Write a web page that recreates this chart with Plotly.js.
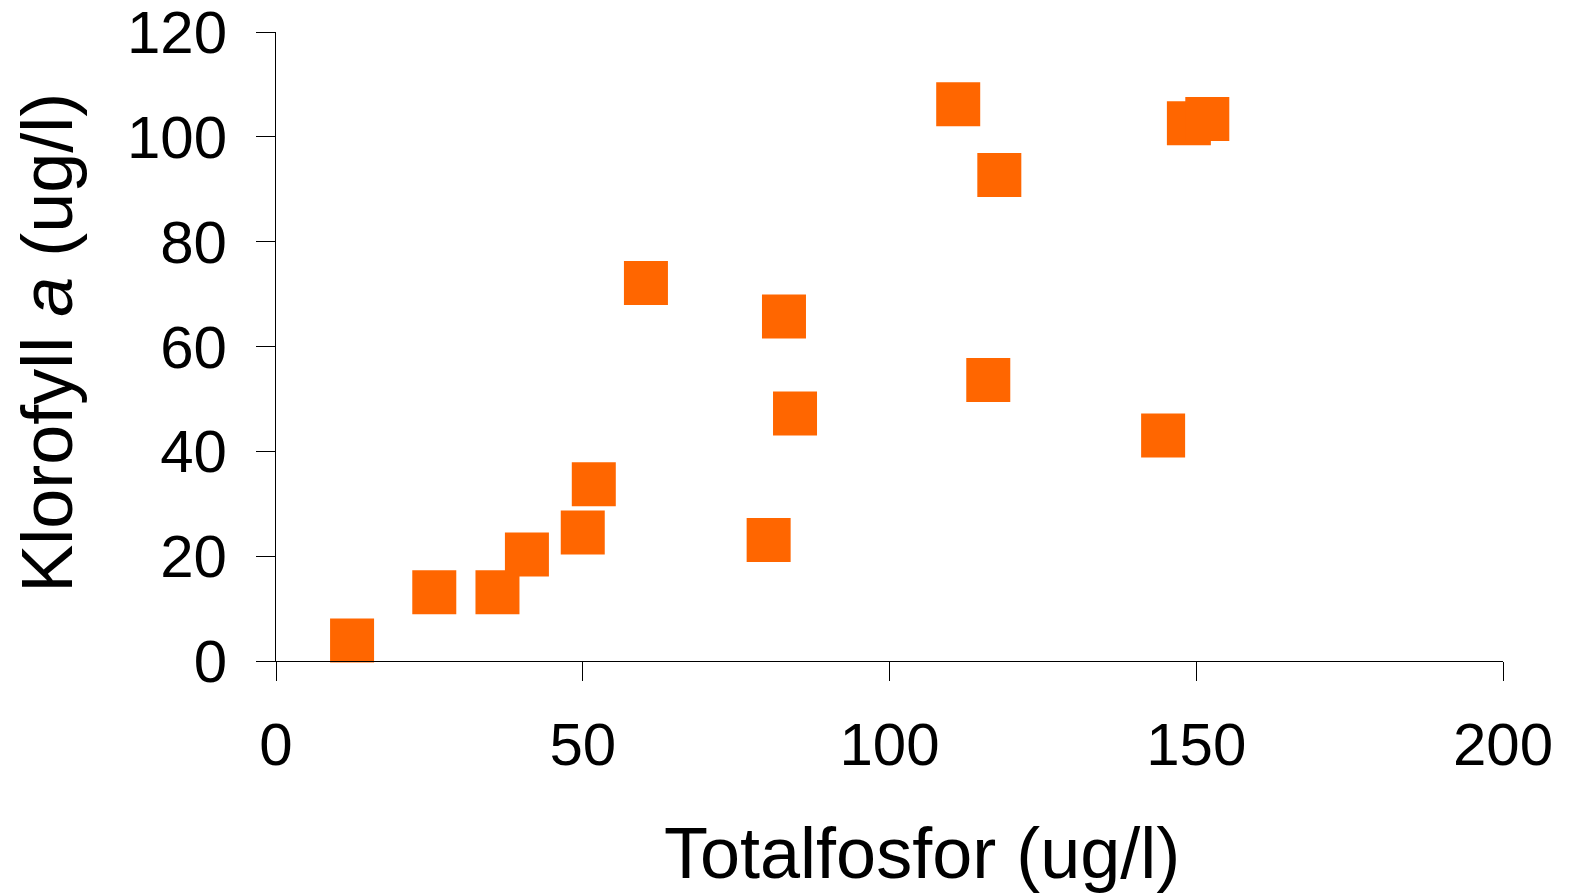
<!DOCTYPE html>
<html>
<head>
<meta charset="utf-8">
<script src="https://cdn.plot.ly/plotly-3.0.1.min.js"></script>
<style>html,body{margin:0;padding:0;background:#fff;}#chart{width:1573px;height:894px;}</style>
</head>
<body>
<div id="chart"></div>
<script>
// Totalfosfor (ug/l)
const totalfosfor = [12.4, 25.8, 36.1, 40.9, 50.0, 51.8, 60.3, 80.3, 82.8, 84.6, 111.2, 116.1, 117.9, 144.6, 148.8, 151.8];
// Klorofyll a (ug/l)
const klorofyll = [3.9, 13.1, 13.1, 20.3, 24.5, 33.7, 72.1, 23.1, 65.7, 47.2, 106.2, 53.6, 92.7, 43.0, 102.6, 103.4];

const xTicks = [0, 50, 100, 150, 200];
const yTicks = [0, 20, 40, 60, 80, 100, 120];

const FONT = 'Liberation Sans, Arial, sans-serif';

const trace = {
  type: 'scatter',
  mode: 'markers',
  x: totalfosfor,
  y: klorofyll,
  marker: { symbol: 'square', size: 44, color: '#FF6600', line: { width: 0 } },
  hoverinfo: 'x+y',
  cliponaxis: false
};

const layout = {
  width: 1573,
  height: 894,
  margin: { l: 276, r: 70, t: 32, b: 233, pad: 0 },
  paper_bgcolor: '#ffffff',
  plot_bgcolor: '#ffffff',
  showlegend: false,
  font: { family: FONT, color: '#000' },
  xaxis: {
    range: [0, 200],
    tickvals: xTicks,
    ticktext: xTicks.map(String),
    ticks: 'outside',
    ticklen: 19,
    tickwidth: 1,
    tickcolor: '#000',
    showline: true,
    linecolor: '#000',
    linewidth: 1,
    showgrid: false,
    zeroline: false,
    tickfont: { family: FONT, size: 60, color: '#000' },
    ticklabelstandoff: 12,
    ticklabeloverflow: 'allow'
  },
  yaxis: {
    range: [0, 120],
    tickvals: yTicks,
    ticktext: yTicks.map(String),
    ticks: 'outside',
    ticklen: 19,
    tickwidth: 1,
    tickcolor: '#000',
    showline: true,
    linecolor: '#000',
    linewidth: 1,
    showgrid: false,
    zeroline: false,
    tickfont: { family: FONT, size: 60, color: '#000' },
    ticklabelstandoff: 17,
    ticklabeloverflow: 'allow'
  },
  annotations: [
    {
      text: 'Totalfosfor (ug/l)',
      xref: 'paper', yref: 'paper',
      x: (922 - 276) / 1227, y: -(853 - 661) / 628.7,
      xanchor: 'center', yanchor: 'middle',
      showarrow: false,
      font: { family: FONT, size: 72, color: '#000' }
    },
    {
      text: 'Klorofyll <i>a</i> (ug/l)',
      xref: 'paper', yref: 'paper',
      x: -(276 - 47) / 1227, y: (661 - 343) / 628.7,
      xanchor: 'center', yanchor: 'middle',
      textangle: -90,
      showarrow: false,
      font: { family: FONT, size: 72, color: '#000' }
    }
  ]
};

Plotly.newPlot('chart', [trace], layout, { displayModeBar: false, staticPlot: true });
</script>
</body>
</html>
